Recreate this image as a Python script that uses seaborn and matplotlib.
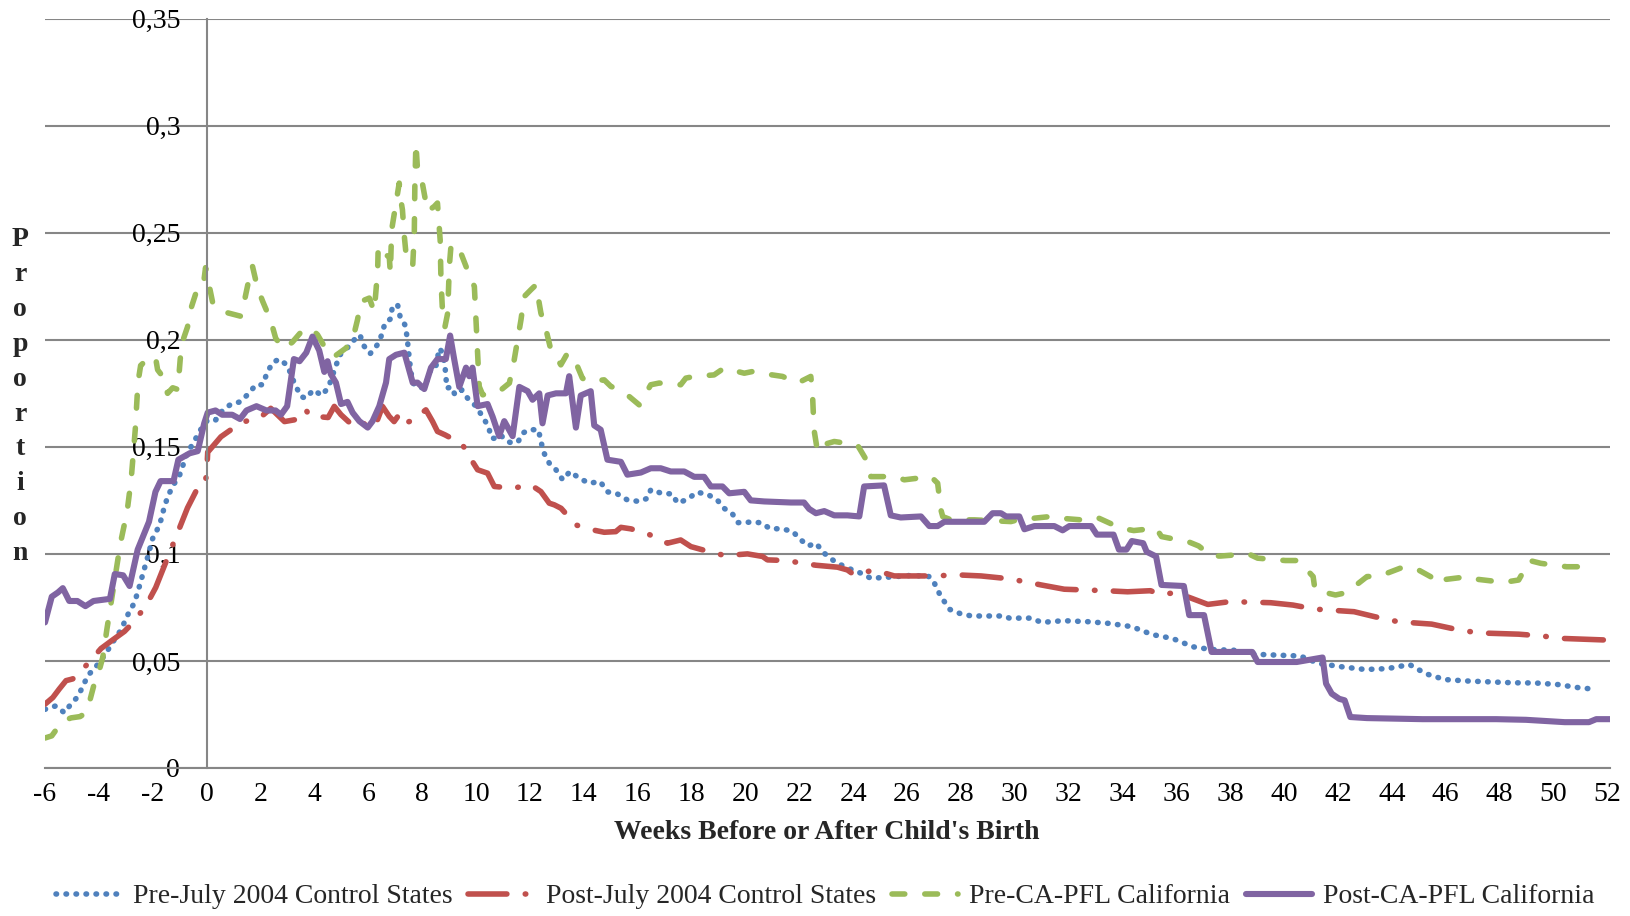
import numpy as np
import pandas as pd
import seaborn as sns
import matplotlib
matplotlib.use("Agg")
import matplotlib.pyplot as plt
from matplotlib.ticker import MultipleLocator

# --- data (weeks relative to birth, proportion) ---
pre_ctrl_weeks = [-6.0, -5.6, -5.28, -5.03, -4.79, -4.6, -4.41, -4.17, -3.92, -3.67, -3.43, -3.18, -2.91, -2.69,
                  -2.56, -2.43, -2.31, -2.19, -2.01, -1.82, -1.69, -1.58, -1.45, -1.26, -1.01, -0.89, -0.71, -0.48,
                  -0.28, 0.04, 0.34, 0.59, 0.91, 1.24, 1.53, 1.83, 2.08, 2.24, 2.45, 2.7, 3.0, 3.25, 3.5, 3.69, 3.96,
                  4.28, 4.53, 4.8, 4.99, 5.29, 5.48, 5.69, 5.85, 6.07, 6.34, 6.5, 6.62, 6.82, 6.9, 7.09, 7.18, 7.36,
                  7.44, 7.49, 7.58, 7.67, 7.89, 8.1, 8.36, 8.51, 8.64, 8.76, 8.85, 8.92, 9.09, 9.22, 9.47, 9.69,
                  10.0, 10.25, 10.46, 10.58, 10.74, 10.9, 11.17, 11.36, 11.57, 11.73, 11.98, 12.32, 12.41, 12.53,
                  12.72, 12.97, 13.22, 13.49, 13.83, 14.2, 14.61, 14.88, 15.25, 15.62, 16.06, 16.37, 16.49, 16.89,
                  17.29, 17.48, 17.85, 18.2, 18.59, 18.97, 19.21, 19.52, 19.73, 20.14, 20.57, 20.92, 21.34, 21.75,
                  22.03, 22.33, 22.62, 22.93, 23.24, 23.42, 23.92, 24.29, 24.66, 25.28, 26.21, 26.83, 27.02, 27.26,
                  27.6, 28.0, 28.4, 29.6, 29.8, 30.6, 31.0, 31.81, 32.77, 33.53, 34.35, 35.11, 35.86, 36.62, 37.31,
                  38.13, 38.95, 39.78, 40.6, 41.29, 42.18, 43.01, 43.83, 44.66, 45.27, 45.96, 46.85, 47.68, 48.5,
                  49.33, 50.15, 51.04, 51.39, 51.52]
pre_ctrl_vals = [0.0274, 0.029, 0.0258, 0.030, 0.0332, 0.038, 0.0432, 0.0464, 0.0503, 0.055, 0.0598, 0.0645, 0.072,
                 0.077, 0.082, 0.0878, 0.093, 0.0985, 0.107, 0.1117, 0.116, 0.1215, 0.1265, 0.1317, 0.1365, 0.141,
                 0.1475, 0.152, 0.157, 0.1626, 0.1626, 0.167, 0.170, 0.171, 0.1745, 0.179, 0.179, 0.1844, 0.1894,
                 0.191, 0.188, 0.180, 0.1735, 0.1727, 0.1766, 0.174, 0.178, 0.188, 0.1938, 0.197, 0.200, 0.2023,
                 0.197, 0.1935, 0.1977, 0.2023, 0.2078, 0.2097, 0.2156, 0.2164, 0.211, 0.207, 0.2016, 0.1953, 0.1852,
                 0.1797, 0.1774, 0.178, 0.1875, 0.1875, 0.196, 0.194, 0.1875, 0.1774, 0.178, 0.1743, 0.1766, 0.1727,
                 0.169, 0.164, 0.1595, 0.154, 0.154, 0.1556, 0.1525, 0.1517, 0.1525, 0.1564, 0.158, 0.158, 0.1525,
                 0.147, 0.1424, 0.1393, 0.1346, 0.1385, 0.1354, 0.133, 0.1338, 0.129, 0.128, 0.1252, 0.1245, 0.126,
                 0.130, 0.1283, 0.128, 0.1237, 0.1255, 0.1288, 0.1279, 0.125, 0.1213, 0.1187, 0.1146, 0.1148, 0.1146,
                 0.1118, 0.1117, 0.1106, 0.1069, 0.1037, 0.105, 0.1003, 0.0972, 0.0956, 0.0928, 0.091, 0.0886,
                 0.0891, 0.090, 0.0894, 0.0863, 0.080, 0.074, 0.072, 0.071, 0.071, 0.070, 0.070, 0.068, 0.0688,
                 0.0683, 0.0675, 0.066, 0.0623, 0.0605, 0.0566, 0.0553, 0.055, 0.0531, 0.0527, 0.0523, 0.0488,
                 0.0472, 0.046, 0.0464, 0.0483, 0.044, 0.0413, 0.0406, 0.0402, 0.0398, 0.0397, 0.039, 0.0373, 0.037,
                 0.0355]

post_ctrl_weeks = [-6.0, -5.71, -5.47, -5.22, -4.97, -4.41, -3.92, -3.49, -3.05, -2.75, -2.26, -1.89, -1.64, -1.36,
                   -1.01, -0.71, -0.39, -0.09, 0.0, 0.04, 0.53, 0.97, 1.27, 1.59, 2.02, 2.38, 2.89, 3.25, 3.5, 3.69,
                   3.81, 4.51, 4.74, 4.99, 5.36, 5.6, 5.91, 6.25, 6.53, 6.78, 6.96, 7.18, 7.42, 7.62, 8.14, 8.39,
                   8.57, 8.85, 9.48, 9.87, 10.06, 10.43, 10.68, 11.36, 12.04, 12.41, 12.72, 12.91, 13.16, 13.71,
                   14.45, 14.76, 15.19, 15.38, 15.75, 16.39, 17.11, 17.6, 17.98, 18.41, 19.24, 20.08, 20.64, 20.82,
                   21.5, 22.31, 22.62, 23.42, 23.79, 24.04, 24.78, 25.53, 27.02, 27.88, 28.75, 29.62, 30.17, 30.98,
                   31.84, 33.39, 34.19, 35.04, 35.38, 35.8, 36.41, 37.17, 37.99, 39.5, 40.33, 41.15, 42.6, 43.39,
                   44.24, 45.48, 46.37, 47.2, 48.71, 49.53, 50.36, 52.1]
post_ctrl_vals = [0.0298, 0.0329, 0.0369, 0.0408, 0.0416, 0.0487, 0.0558, 0.0598, 0.0638, 0.0677, 0.0756, 0.0843,
                  0.0922, 0.101, 0.112, 0.1215, 0.1294, 0.1317, 0.137, 0.1475, 0.1547, 0.1586, 0.161, 0.1626, 0.164,
                  0.168, 0.1618, 0.1626, 0.1634, 0.1673, 0.1645, 0.1637, 0.1689, 0.165, 0.1607, 0.1626, 0.1603,
                  0.1595, 0.1689, 0.1642, 0.1618, 0.1657, 0.1614, 0.1622, 0.1673, 0.1618, 0.1572, 0.1556, 0.1514,
                  0.1431, 0.1393, 0.1377, 0.1315, 0.1307, 0.1322, 0.1291, 0.1237, 0.1229, 0.1213, 0.1135, 0.1109,
                  0.1101, 0.1104, 0.1124, 0.1117, 0.1093, 0.105, 0.1065, 0.1034, 0.1019, 0.0992, 0.1, 0.0988, 0.0972,
                  0.0969, 0.0953, 0.0947, 0.0938, 0.0925, 0.0902, 0.0925, 0.0897, 0.0897, 0.0902, 0.0897, 0.0886,
                  0.0875, 0.0855, 0.0835, 0.0828, 0.0823, 0.0828, 0.0812, 0.0816, 0.08, 0.0764, 0.0777, 0.0772,
                  0.0761, 0.0742, 0.073, 0.0706, 0.0683, 0.0672, 0.0648, 0.0631, 0.0625, 0.0617, 0.0605, 0.0597]

pre_ca_weeks = [-6.0, -5.75, -5.35, -5.03, -4.7, -4.45, -4.2, -4.0, -3.85, -3.7, -3.45, -3.2, -2.95, -2.8, -2.65,
                -2.55, -2.45, -2.2, -1.9, -1.82, -1.7, -1.45, -1.26, -1.07, -0.98, -0.9, -0.71, -0.58, -0.33, -0.12,
                -0.04, 0.23, 0.4, 0.66, 1.27, 1.4, 1.53, 1.7, 1.89, 2.08, 2.38, 2.57, 2.89, 3.19, 3.51, 3.87, 4.12,
                4.37, 4.61, 4.74, 4.92, 5.17, 5.42, 5.6, 5.73, 6.04, 6.22, 6.28, 6.35, 6.37, 6.59, 6.78, 6.82, 6.87,
                6.97, 7.15, 7.21, 7.27, 7.34, 7.4, 7.65, 7.71, 7.73, 7.77, 7.83, 8.02, 8.2, 8.45, 8.57, 8.67, 8.7,
                8.76, 8.85, 8.95, 9.01, 9.07, 9.32, 9.44, 9.75, 9.94, 10.0, 10.06, 10.12, 10.25, 10.86, 11.24, 11.42,
                11.67, 11.79, 12.04, 12.23, 12.41, 12.6, 12.78, 12.97, 13.15, 13.4, 13.77, 13.95, 14.14, 14.76,
                15.01, 15.19, 15.69, 16.06, 16.49, 16.8, 17.6, 17.79, 18.1, 18.84, 19.21, 19.96, 20.27, 20.57,
                21.38, 21.94, 22.43, 22.49, 22.55, 22.68, 22.86, 23.3, 24.16, 24.6, 24.66, 25.59, 25.9, 26.89,
                27.14, 27.26, 27.33, 27.64, 28.5, 29.86, 30.11, 31.29, 31.66, 32.77, 33.12, 33.94, 34.42, 35.25,
                35.45, 36.48, 36.83, 37.31, 37.65, 38.68, 39.02, 40.05, 40.53, 41.08, 41.15, 41.91, 42.32, 43.08,
                43.56, 44.31, 44.86, 45.55, 45.69, 45.82, 46.85, 47.2, 48.16, 48.71, 49.12, 49.53, 50.49, 51.39]
pre_ca_vals = [0.014, 0.015, 0.0219, 0.0234, 0.024, 0.026, 0.038, 0.045, 0.052, 0.065, 0.085, 0.105, 0.12, 0.135,
               0.158, 0.18, 0.188, 0.191, 0.192, 0.186, 0.184, 0.175, 0.1776, 0.1768, 0.191, 0.199, 0.206, 0.2147,
               0.2245, 0.2258, 0.2337, 0.217, 0.2147, 0.213, 0.211, 0.218, 0.2258, 0.2345, 0.2242, 0.218, 0.209,
               0.2005, 0.1958, 0.199, 0.2037, 0.2055, 0.2023, 0.1969, 0.1953, 0.1922, 0.1938, 0.1961, 0.2, 0.2093,
               0.2179, 0.2195, 0.2132, 0.2218, 0.2327, 0.2436, 0.2397, 0.239, 0.2312, 0.2514, 0.2592, 0.2732,
               0.2654, 0.2607, 0.2483, 0.2405, 0.2343, 0.2498, 0.2717, 0.2919, 0.2794, 0.2724, 0.26, 0.2623,
               0.2639, 0.2467, 0.228, 0.2125, 0.2062, 0.2125, 0.2343, 0.2436, 0.2444, 0.2405, 0.2304, 0.2249,
               0.2093, 0.1938, 0.1782, 0.1743, 0.1759, 0.1798, 0.1907, 0.2093, 0.2202, 0.2234, 0.2257, 0.2125,
               0.2047, 0.1953, 0.1922, 0.1883, 0.1938, 0.1875, 0.1821, 0.1805, 0.1813, 0.1782, 0.1774, 0.1735,
               0.1696, 0.179, 0.1798, 0.179, 0.1821, 0.1829, 0.1836, 0.1868, 0.1844, 0.1852, 0.1844, 0.1829,
               0.1798, 0.1829, 0.1758, 0.158, 0.1478, 0.1509, 0.1525, 0.1509, 0.1416, 0.1361, 0.1361, 0.1346,
               0.1361, 0.133, 0.1206, 0.1174, 0.1159, 0.1159, 0.1151, 0.1159, 0.1174, 0.1167, 0.1156, 0.1167,
               0.112, 0.1109, 0.112, 0.1081, 0.1055, 0.1037, 0.099, 0.099, 0.1, 0.098, 0.0969, 0.0969, 0.0894,
               0.0831, 0.0808, 0.0819, 0.0894, 0.0897, 0.0933, 0.0934, 0.0886, 0.0862, 0.0878, 0.0894, 0.0881,
               0.0867, 0.0878, 0.0969, 0.0956, 0.094, 0.094]

post_ca_weeks = [-6.0, -5.75, -5.52, -5.34, -5.1, -4.8, -4.5, -4.2, -3.59, -3.41, -3.1, -2.86, -2.56, -2.14, -1.9,
                 -1.71, -1.23, -1.05, -0.63, -0.33, -0.09, 0.04, 0.33, 0.58, 0.95, 1.24, 1.48, 1.85, 2.22, 2.56,
                 2.76, 2.99, 3.24, 3.45, 3.7, 3.93, 4.18, 4.37, 4.49, 4.61, 4.8, 4.99, 5.23, 5.42, 5.67, 5.98, 6.16,
                 6.41, 6.66, 6.78, 7.03, 7.34, 7.65, 7.83, 8.08, 8.33, 8.57, 8.88, 9.04, 9.19, 9.38, 9.63, 9.75,
                 9.87, 10.06, 10.43, 10.62, 10.86, 11.05, 11.36, 11.61, 11.92, 12.1, 12.35, 12.47, 12.66, 12.97,
                 13.34, 13.46, 13.71, 13.89, 14.26, 14.39, 14.63, 14.88, 15.38, 15.62, 16.12, 16.49, 16.86, 17.23,
                 17.73, 18.1, 18.47, 18.72, 19.15, 19.4, 19.96, 20.2, 20.7, 21.69, 22.18, 22.37, 22.62, 22.93, 23.3,
                 23.79, 24.23, 24.41, 25.15, 25.4, 25.77, 26.52, 26.83, 27.14, 27.39, 28.87, 29.18, 29.49, 29.68,
                 30.17, 30.36, 30.73, 31.47, 31.78, 32.03, 32.84, 33.05, 33.67, 33.87, 34.15, 34.35, 34.77, 34.9,
                 35.25, 35.45, 36.28, 36.48, 37.03, 37.31, 38.82, 39.02, 40.47, 41.43, 41.56, 41.77, 42.05, 42.25,
                 42.46, 43.08, 45.14, 47.88, 48.98, 50.42, 51.32, 51.59, 52.1]
post_ca_vals = [0.068, 0.08, 0.082, 0.084, 0.078, 0.078, 0.0756, 0.078, 0.079, 0.0906, 0.090, 0.085, 0.102, 0.115,
                0.129, 0.134, 0.134, 0.144, 0.147, 0.148, 0.161, 0.166, 0.167, 0.165, 0.165, 0.163, 0.167, 0.169,
                0.167, 0.167, 0.165, 0.169, 0.191, 0.19, 0.194, 0.2015, 0.195, 0.185, 0.190, 0.184, 0.180, 0.170,
                0.171, 0.166, 0.162, 0.159, 0.162, 0.169, 0.180, 0.191, 0.193, 0.194, 0.180, 0.180, 0.177, 0.187,
                0.191, 0.191, 0.202, 0.191, 0.178, 0.187, 0.183, 0.187, 0.169, 0.170, 0.164, 0.155, 0.162, 0.155,
                0.178, 0.176, 0.172, 0.175, 0.161, 0.174, 0.175, 0.175, 0.183, 0.159, 0.174, 0.176, 0.160, 0.158,
                0.144, 0.143, 0.137, 0.138, 0.140, 0.140, 0.1385, 0.1385, 0.136, 0.136, 0.1315, 0.1315, 0.1283,
                0.129, 0.125, 0.1245, 0.124, 0.124, 0.121, 0.119, 0.12, 0.118, 0.118, 0.1175, 0.1315, 0.132, 0.118,
                0.117, 0.1175, 0.113, 0.113, 0.115, 0.115, 0.119, 0.119, 0.1175, 0.1175, 0.1115, 0.113, 0.113,
                0.111, 0.113, 0.113, 0.109, 0.109, 0.102, 0.102, 0.106, 0.105, 0.101, 0.0988, 0.0855, 0.085, 0.0714,
                0.0714, 0.0542, 0.0542, 0.0495, 0.0495, 0.0516, 0.0394, 0.0347, 0.0323, 0.0316, 0.0238, 0.0233,
                0.0228, 0.0228, 0.0225, 0.0214, 0.0214, 0.0228, 0.0228]

series_names = ["Pre-July 2004 Control States", "Post-July 2004 Control States",
                "Pre-CA-PFL California", "Post-CA-PFL California"]
ytick_vals = [0, 0.05, 0.1, 0.15, 0.2, 0.25, 0.3, 0.35]
ytick_labels = ["0", "0,05", "0,1", "0,15", "0,2", "0,25", "0,3", "0,35"]
xtick_vals = list(range(-6, 53, 2))

frames = []
for name, wk, val in zip(series_names,
                         [pre_ctrl_weeks, post_ctrl_weeks, pre_ca_weeks, post_ca_weeks],
                         [pre_ctrl_vals, post_ctrl_vals, pre_ca_vals, post_ca_vals]):
    frames.append(pd.DataFrame({"week": wk, "prop": val, "series": name}))
df = pd.concat(frames, ignore_index=True)

sns.set_style("white")
plt.rcParams['font.family'] = ['Liberation Serif', 'DejaVu Serif']

colors = {series_names[0]: "#4F81BD", series_names[1]: "#C0504D",
          series_names[2]: "#9BBB59", series_names[3]: "#8064A2"}
styles = {series_names[0]: (0, (0.1, 1.7)),
          series_names[1]: (0, (7, 3.3, 0.1, 3.3)),
          series_names[2]: (0, (2.3, 3.6)),
          series_names[3]: "-"}
widths = {series_names[0]: 4.0, series_names[1]: 4.0, series_names[2]: 4.0, series_names[3]: 4.4}

fig = plt.figure(figsize=(16.31, 9.16), dpi=100)
ax = fig.add_axes([0.0276, 0.1616, 0.9595, 0.818])
grid_col = "#868686"

for name in series_names:
    sub = df[df["series"] == name]
    sns.lineplot(data=sub, x="week", y="prop", ax=ax, color=colors[name], linestyle=styles[name],
                 linewidth=widths[name], estimator=None, sort=False, label=name)

for ln in ax.lines:
    ln.set_dash_capstyle("round")
    ln.set_solid_capstyle("round")
    ln.set_dash_joinstyle("round")
    ln.set_solid_joinstyle("round")

ax.set_xlim(-6, 52.1)
ax.set_ylim(0, 0.35)
ax.set_yticks(ytick_vals, ytick_labels)
ax.set_xticks(xtick_vals, [str(t) for t in xtick_vals])
ax.xaxis.set_minor_locator(MultipleLocator(1))
ax.yaxis.grid(True, color=grid_col, linewidth=1.5)
ax.xaxis.grid(False)
ax.set_axisbelow(True)

for s in ["top", "right"]:
    ax.spines[s].set_visible(False)
ax.spines["left"].set_position(("data", 0))
ax.spines["left"].set_color(grid_col)
ax.spines["left"].set_linewidth(1.5)
ax.spines["bottom"].set_color(grid_col)
ax.spines["bottom"].set_linewidth(1.5)

ax.tick_params(axis="y", length=0, pad=19, labelsize=20, labelcolor="black")
ax.tick_params(axis="x", which="both", direction="out", length=5, width=1.5, color=grid_col,
               labelsize=20, pad=5, labelcolor="black")
ax.set_xlabel("")
ax.set_ylabel("")

fig.text(0.507, 0.0917, "Weeks Before or After Child's Birth", ha="center", va="center",
         fontsize=20, fontweight="bold")
fig.text(0.0123, 0.567, "\n".join("Proportion"), ha="center", va="center",
         fontsize=20, fontweight="bold", linespacing=1.52)

handles, labels = ax.get_legend_handles_labels()
if ax.get_legend() is not None:
    ax.get_legend().remove()
fig.legend(handles, labels, loc="center", bbox_to_anchor=(0.506, 0.021), ncol=4, frameon=False,
           fontsize=20, handlelength=2.4, handletextpad=0.4, columnspacing=0.55)

fig.savefig("out.png", dpi=100)
